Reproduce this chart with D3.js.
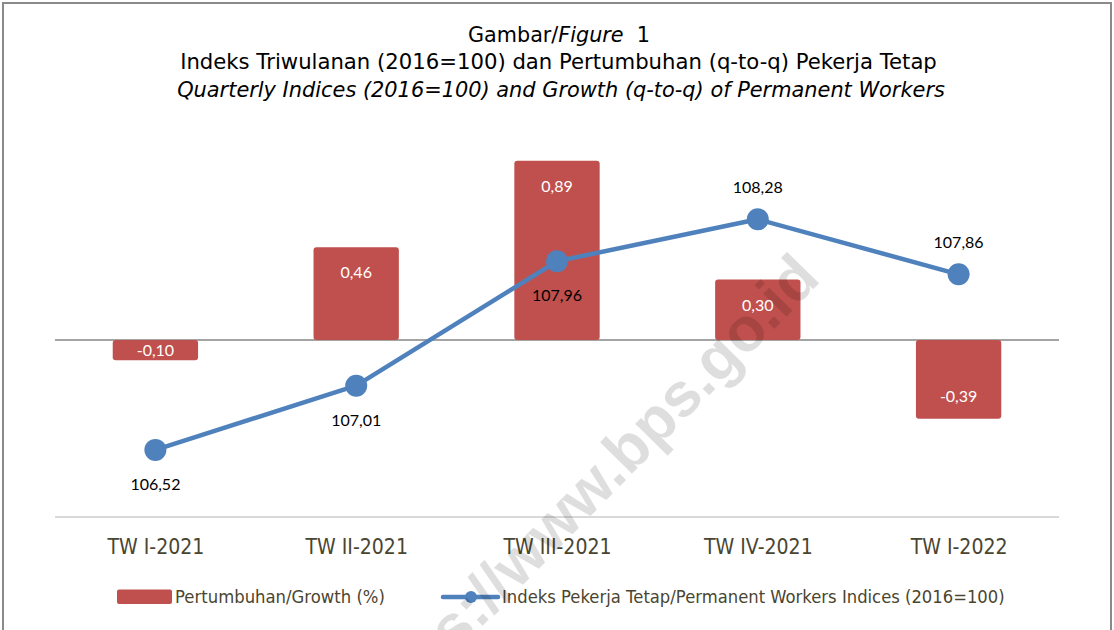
<!DOCTYPE html>
<html>
<head>
<meta charset="utf-8">
<script src="https://cdn.jsdelivr.net/npm/d3@7"></script>
<style>
  html, body { margin: 0; padding: 0; background: #fff; }
  svg { display: block; }
</style>
</head>
<body>
<svg id="chart" width="1114" height="630"></svg>
<script>
// ---- data ----
const categories = ["TW I-2021", "TW II-2021", "TW III-2021", "TW IV-2021", "TW I-2022"];
const growth = [-0.10, 0.46, 0.89, 0.30, -0.39];
const indices = [106.52, 107.01, 107.96, 108.28, 107.86];
const indexLabelSide = ["below", "below", "below", "above", "above"];
const seriesNames = ["Pertumbuhan/Growth (%)", "Indeks Pekerja Tetap/Permanent Workers Indices (2016=100)"];
const titleLines = ["Gambar/", "Figure", "  1",
  "Indeks Triwulanan (2016=100) dan Pertumbuhan (q-to-q) Pekerja Tetap",
  "Quarterly Indices (2016=100) and Growth (q-to-q) of Permanent Workers"];
const watermark = "https://www.bps.go.id";

const barColor = "#C0504D", lineColor = "#4F81BD", textColor = "#4a4530";
const mainFont = "'DejaVu Sans', sans-serif";
const labelFont = "Lato, 'Noto Sans', sans-serif";

const loc = d3.formatLocale({decimal: ",", thousands: ".", grouping: [3], currency: ["", ""], minus: "-"});
const fmt = loc.format(".2f");

const svg = d3.select("#chart");

// border
svg.append("rect").attr("x", 3).attr("y", 3).attr("width", 1108).attr("height", 700)
  .attr("fill", "#fff").attr("stroke", "#8a8a8a").attr("stroke-width", 2);

// horizontally squeeze a text so it spans `target` px, pivoting at px
function squeeze(sel, target, px) {
  const w = sel.node().getComputedTextLength();
  const k = target / w;
  sel.attr("transform", `translate(${px},0) scale(${k},1) translate(${-px},0)`);
  return k;
}

// titles
const t1 = svg.append("text").attr("x", 559).attr("y", 42).attr("text-anchor", "middle")
  .attr("font-family", mainFont).attr("font-size", 20.5).attr("fill", "#000")
  .style("white-space", "pre");
t1.append("tspan").text(titleLines[0]);
t1.append("tspan").attr("font-style", "italic").text(titleLines[1]);
t1.append("tspan").text(titleLines[2]);
squeeze(t1, 182, 559);
const t2 = svg.append("text").attr("x", 558.5).attr("y", 69).attr("text-anchor", "middle")
  .attr("font-family", mainFont).attr("font-size", 20.5).attr("fill", "#000").text(titleLines[3]);
squeeze(t2, 757, 558.5);
const t3 = svg.append("text").attr("x", 561).attr("y", 97).attr("text-anchor", "middle")
  .attr("font-family", mainFont).attr("font-size", 20.5).attr("font-style", "italic").attr("fill", "#000").text(titleLines[4]);
squeeze(t3, 768, 561);

// scales
const x = d3.scaleBand().domain(categories).range([55, 1059]).paddingInner(0.575).paddingOuter(0.2875);
const yBar = d3.scaleLinear().domain([-0.883, 1.067]).range([518, 125]);
const yLine = d3.scaleLinear().domain([106, 109]).range([518, 125]);

// zero line
svg.append("line").attr("x1", 55).attr("x2", 1059).attr("y1", yBar(0)).attr("y2", yBar(0))
  .attr("stroke", "#868686").attr("stroke-width", 1.5);

// bottom category axis
const xAxis = d3.axisBottom(d3.scalePoint().domain(categories)
    .range([x(categories[0]) + x.bandwidth()/2, x(categories[categories.length-1]) + x.bandwidth()/2]))
  .tickSize(0).tickPadding(0);
const gAx = svg.append("g").attr("transform", "translate(0,517)").call(xAxis);
gAx.select(".domain").remove();
svg.append("line").attr("x1", 55).attr("x2", 1059).attr("y1", 517).attr("y2", 517)
  .attr("stroke", "#d9d9d9").attr("stroke-width", 2);
const tickTexts = gAx.selectAll(".tick text").attr("font-family", mainFont).attr("font-size", 21.5)
  .attr("fill", textColor).attr("dy", null).attr("y", 37);
const catK = squeeze(d3.select(tickTexts.nodes()[0]), 97, 0);
tickTexts.attr("transform", `scale(${catK},1)`);

// bars
const bars = svg.append("g");
bars.selectAll("rect").data(growth).join("rect")
  .attr("x", (d, i) => x(categories[i]))
  .attr("width", x.bandwidth())
  .attr("y", d => Math.min(yBar(d), yBar(0)))
  .attr("height", d => Math.abs(yBar(d) - yBar(0)))
  .attr("rx", 3).attr("fill", barColor);

bars.selectAll("text").data(growth).join("text")
  .attr("x", (d, i) => x(categories[i]) + x.bandwidth()/2)
  .attr("y", d => {
    const h = Math.abs(yBar(d) - yBar(0));
    if (h < 40) return (yBar(d) + yBar(0)) / 2 + 5.5;
    return d >= 0 ? yBar(d) + 31 : yBar(d) - 17;
  })
  .attr("text-anchor", "middle").attr("font-family", labelFont).attr("font-size", 16)
  .attr("fill", "#fff").text(d => fmt(d));

// line
const cx = (d, i) => x(categories[i]) + x.bandwidth()/2;
const lineGen = d3.line().x((d, i) => cx(d, i)).y(d => yLine(d));
svg.append("path").datum(indices).attr("d", lineGen).attr("fill", "none")
  .attr("stroke", lineColor).attr("stroke-width", 4.5).attr("stroke-linejoin", "round");
svg.append("g").selectAll("circle").data(indices).join("circle")
  .attr("cx", cx).attr("cy", d => yLine(d)).attr("r", 11).attr("fill", lineColor);
svg.append("g").selectAll("text").data(indices).join("text")
  .attr("x", cx)
  .attr("y", (d, i) => indexLabelSide[i] === "above" ? yLine(d) - 26 : yLine(d) + 40)
  .attr("text-anchor", "middle").attr("font-family", labelFont).attr("font-size", 16)
  .attr("fill", "#000").text(d => fmt(d));

// legend
const leg = svg.append("g");
leg.append("rect").attr("x", 117).attr("y", 589.5).attr("width", 55).attr("height", 14.5).attr("rx", 2).attr("fill", barColor);
const l1 = leg.append("text").attr("x", 175).attr("y", 603).attr("font-family", mainFont).attr("font-size", 18)
  .attr("fill", textColor).text(seriesNames[0]);
squeeze(l1, 210, 175);
leg.append("line").attr("x1", 443).attr("x2", 498).attr("y1", 597).attr("y2", 597)
  .attr("stroke", lineColor).attr("stroke-width", 4.5).attr("stroke-linecap", "round");
leg.append("circle").attr("cx", 471).attr("cy", 597).attr("r", 6).attr("fill", lineColor);
const l2 = leg.append("text").attr("x", 502).attr("y", 603).attr("font-family", mainFont).attr("font-size", 18)
  .attr("fill", textColor).text(seriesNames[1]);
squeeze(l2, 503, 502);

// watermark
const wmG = svg.append("g").attr("transform", "translate(623,483) rotate(-45.5)");
const wm = wmG.append("text").attr("font-family", "'Liberation Sans', Arial, sans-serif")
  .attr("font-weight", "bold").attr("font-size", 62).attr("fill", "#000").attr("fill-opacity", 0.13)
  .text(watermark);
const pre = wm.node().getSubStringLength(0, 11);
const dotW = wm.node().getSubStringLength(11, 1);
wm.attr("x", -(pre + dotW / 2));
</script>
</body>
</html>
